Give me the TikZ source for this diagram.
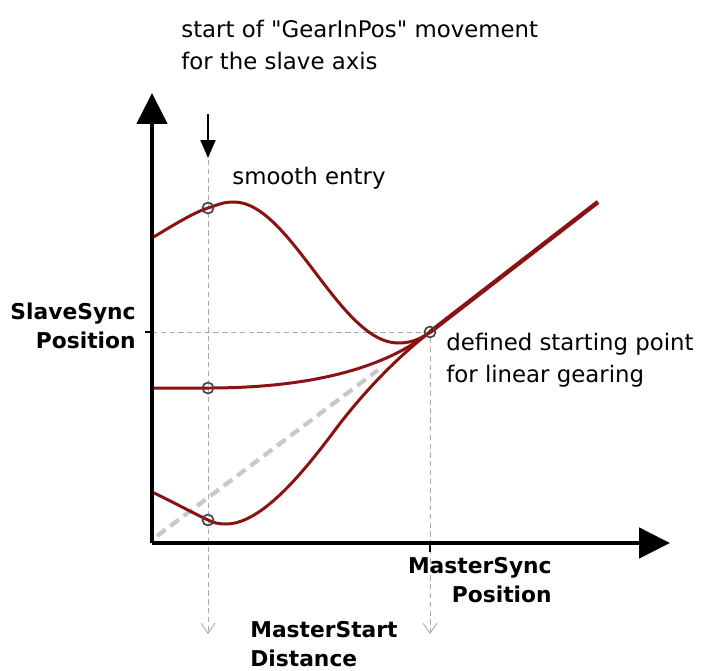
\documentclass[tikz,border=0pt]{standalone}
\usepackage{fontspec}
\setmainfont{DejaVu Sans}[Ligatures=TeXOff]
\usetikzlibrary{arrows.meta}
\definecolor{gearred}{RGB}{139,18,18}
\definecolor{guidegray}{RGB}{170,170,170}
\definecolor{trailgray}{RGB}{200,200,200}
\definecolor{knotgray}{RGB}{70,70,70}

\begin{document}
\begin{tikzpicture}[x=0.02cm, y=-0.02cm,
	axis/.style={line width=2.8pt, -{Triangle[length=0.62cm, width=0.6cm]}},
	guide/.style={guidegray, line width=0.5pt, dash pattern=on 3pt off 2pt},
	curve/.style={gearred, line width=1.7pt},
	knot/.style={circle, draw=knotgray, line width=0.8pt, minimum size=0.22cm, inner sep=0pt},
	note/.style={font=\fontsize{13}{18}\selectfont, inner sep=0pt, align=left},
	axislabel/.style={font=\bfseries\fontsize{12.4}{16.5}\selectfont, inner sep=0pt}]
	\useasboundingbox (0,0) rectangle (703,670);

	\coordinate (O)     at (152,543);
	\coordinate (ytop)  at (152,93);
	\coordinate (xend)  at (670,543);
	\coordinate (ysync) at (152,332);
	\coordinate (xsync) at (430,543);
	\coordinate (g1top) at (208,160);
	\coordinate (g1bot) at (208,634);
	\coordinate (g2bot) at (430,634);
	\coordinate (arrtop) at (208,114);
	\coordinate (arrbot) at (208,158);
	\coordinate (trail0) at (157,536);
	\coordinate (trail1) at (378,370);
	\coordinate (c1) at (152,238);
	\coordinate (c2) at (152,388);
	\coordinate (c3) at (152,492);
	\coordinate (lend) at (598,202);

	\node[knot] (p1) at (208,208) {};
	\node[knot] (p2) at (208,388) {};
	\node[knot] (p3) at (208,520) {};
	\node[knot] (p4) at (430,332) {};

	\draw[guide, -{Straight Barb[length=0.2cm, width=0.28cm]}] (g1top) -- (g1bot);
	\draw[guide, -{Straight Barb[length=0.2cm, width=0.28cm]}] (p4) -- (g2bot);
	\draw[guide] (ysync) -- (p4);

	\draw[trailgray, line width=2.4pt, dash pattern=on 6pt off 3.5pt] (trail0) -- (trail1);

	\draw[curve] (c1) .. controls (175,224) and (195,212) .. (p1.center)
		.. controls (218,205) and (222,202) .. (234,202)
		.. controls (290,202) and (340,343) .. (398,343)
		.. controls (408,343) and (418,341) .. (p4.center);
	\draw[curve] (c2) -- (p2.center) .. controls (300,388) and (380,372) .. (p4.center);
	\draw[curve] (c3) .. controls (175,503) and (195,514) .. (p3.center)
		.. controls (214,523) and (219,524) .. (226,524)
		.. controls (260,524) and (300,477) .. (335,430)
		.. controls (365,390) and (400,355) .. (p4.center);
	\draw[gearred, line width=2.5pt] (p4.center) -- (lend);

	\draw[axis] (O) -- (ytop);
	\draw[axis] (O) -- (xend);
	\draw[line width=0.8pt] (ysync) -- ++(-7,0);
	\draw[line width=0.8pt] (xsync) -- ++(0,9);
	\draw[line width=1.1pt, -{Triangle[length=0.36cm, width=0.3cm]}] (arrtop) -- (arrbot);

	\node[knot] at (p1) {};
	\node[knot] at (p2) {};
	\node[knot] at (p3) {};
	\node[knot] at (p4) {};

	\node[note, anchor=north west] (startnote) at (181,20) {start of "GearInPos" movement\\for the slave axis};
	\node[note, anchor=west] (smooth) at (232,178) {smooth entry};
	\node[note, anchor=west] (defined) at (446,360) {defined starting point\\for linear gearing};
	\node[axislabel, anchor=east, align=right] (slavelbl) at (136,326) {SlaveSync\\Position};
	\node[axislabel, anchor=east, align=right] (masterlbl) at (552,580) {MasterSync\\Position};
	\node[axislabel, anchor=west, align=left] (startlbl) at (250,644) {MasterStart\\Distance};
\end{tikzpicture}
\end{document}
